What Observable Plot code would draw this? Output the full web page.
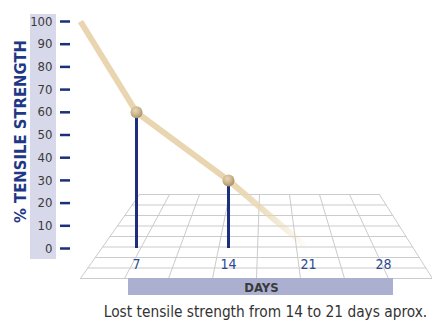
<!DOCTYPE html>
<html><head><meta charset="utf-8">
<script src="https://cdn.jsdelivr.net/npm/d3@7"></script>
<script src="https://cdn.jsdelivr.net/npm/@observablehq/plot@0.6"></script>
<style>
body{margin:0;background:#fff;}
svg{overflow:visible;}
</style></head><body><div id="chart"></div>
<script>
// ---- data ----
const days = [0, 7, 14, 21];
const strength = [100, 60, 30, 0];
const markedDays = [7, 14];
const markedStrength = [60, 30];
const xTickLabels = [7, 14, 21, 28];
const yTickLabels = [0, 10, 20, 30, 40, 50, 60, 70, 80, 90, 100];
const yTitle = "% TENSILE STRENGTH";
const xTitle = "DAYS";
const caption = "Lost tensile strength from 14 to 21 days aprox.";

// ---- layout ----
const W = 432, H = 323;
const NARROW = "'Liberation Sans Narrow','Arial Narrow','DejaVu Sans Condensed',sans-serif";
const xScaleOpts = {type: "linear", domain: [0, 7, 14, 21, 28], range: [80, 136, 228, 308, 383]};
const yScaleOpts = {type: "linear", domain: [0, 100], range: [248, 21]};
const xs = Plot.scale({x: xScaleOpts});
const ys = Plot.scale({y: yScaleOpts});
const X = px => xs.invert(px), Y = py => ys.invert(py);

// perspective floor (decoration), expressed through the scales
const back = {y: 194, x0: 139, x1: 379}, front = {y: 278, x0: 80, x1: 432};
const N = 8;
const floorLines = [];
for (let i = 0; i <= N; i++) {
  const t = i / N;
  const y = back.y + t * (front.y - back.y);
  const xa = back.x0 + t * (front.x0 - back.x0), xb = back.x1 + t * (front.x1 - back.x1);
  floorLines.push({id: "r" + i, x: X(xa), y: Y(y)}, {id: "r" + i, x: X(xb), y: Y(y)});
}
for (let j = 0; j <= N; j++) {
  const s = j / N;
  floorLines.push({id: "c" + j, x: X(back.x0 + s * (back.x1 - back.x0)), y: Y(back.y)},
                  {id: "c" + j, x: X(front.x0 + s * (front.x1 - front.x0)), y: Y(front.y)});
}

const series = days.map((d, i) => ({day: d, value: strength[i]}));
const marked = markedDays.map((d, i) => ({day: d, value: markedStrength[i]}));

const plot = Plot.plot({
  width: W, height: H,
  marginLeft: 70, marginTop: 21, marginBottom: 75, marginRight: 0,
  style: {fontFamily: NARROW, background: "#fff"},
  x: {...xScaleOpts, axis: null},
  y: {...yScaleOpts, axis: null},
  marks: [
    // y label panel
    Plot.rect([0], {x1: X(30), x2: X(56), y1: Y(259), y2: Y(14), fill: "#d8d8eb"}),
    Plot.axisY({ticks: yTickLabels, tickSize: 10, tickPadding: 8, fontSize: 13, label: null,
      stroke: "#1b2f7c", strokeWidth: 2.5, fill: "#3a3a3a"}),
    Plot.text([yTitle], {x: X(20), y: Y(131), rotate: -90, fontSize: 16.5, fontWeight: "bold", fill: "#1f3787"}),
    // floor
    Plot.line(floorLines, {x: "x", y: "y", z: "id", stroke: "#cbcbcb", strokeWidth: 1}),
    // DAYS bar
    Plot.rect([0], {x1: X(128), x2: X(393), y1: Y(278), y2: Y(295), fill: "#abb0d1"}),
    Plot.text([xTitle], {x: X(261), y: Y(287), fontSize: 13, fontWeight: "bold", fill: "#3a3a3a"}),
    Plot.text(xTickLabels, {x: d => d, y: Y(264), fontSize: 14, fill: "#2a4a92"}),
    // stems
    Plot.ruleX(marked, {x: "day", y1: 0, y2: "value", stroke: "#1b2f7c", strokeWidth: 3}),
    // strength line
    Plot.line(series.slice(0, 3), {x: "day", y: "value", stroke: "#e9d6b0", strokeWidth: 6, strokeLinecap: "butt", strokeLinejoin: "round"}),
    Plot.line(series.slice(2), {x: "day", y: "value", stroke: "url(#fadeLine)", strokeWidth: 6, strokeLinecap: "butt"}),
    Plot.dot(marked, {x: "day", y: "value", r: 6, fill: "url(#ball)", stroke: null}),
    // caption
    Plot.text([caption], {x: X(265), y: Y(312), fontSize: 15.3, fill: "#333"})
  ]
});

const defs = d3.select(plot).insert("defs", ":first-child");
const lg = defs.append("linearGradient").attr("id", "fadeLine").attr("x1", 0).attr("x2", 1).attr("y1", 0).attr("y2", 0);
lg.append("stop").attr("offset", 0).attr("stop-color", "#e9d6b0").attr("stop-opacity", 1);
lg.append("stop").attr("offset", 0.45).attr("stop-color", "#e9d6b0").attr("stop-opacity", 0.75);
lg.append("stop").attr("offset", 1).attr("stop-color", "#e9d6b0").attr("stop-opacity", 0);
const rg = defs.append("radialGradient").attr("id", "ball").attr("cx", "40%").attr("cy", "35%").attr("r", "65%");
rg.append("stop").attr("offset", 0).attr("stop-color", "#e8d8b4");
rg.append("stop").attr("offset", 0.6).attr("stop-color", "#cbb48b");
rg.append("stop").attr("offset", 1).attr("stop-color", "#a8916a");

document.getElementById("chart").appendChild(plot);
</script></body></html>
